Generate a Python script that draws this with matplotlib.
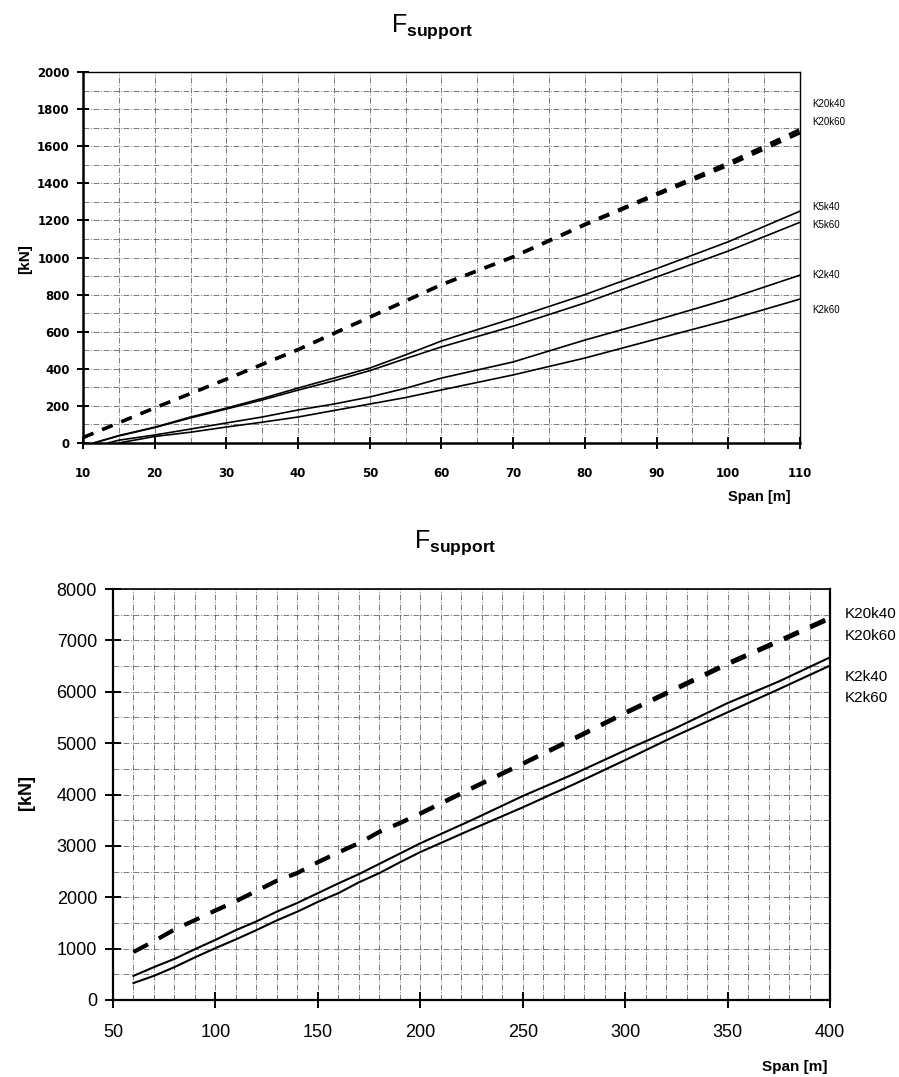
import numpy as np
import matplotlib
matplotlib.use('Agg')
from matplotlib import pyplot as plt
import matplotlib.ticker as ticker
import matplotlib.transforms as mtransforms

plt.rcParams['font.family'] = ['Liberation Sans', 'DejaVu Sans']
plt.rcParams['mathtext.fontset'] = 'custom'
plt.rcParams['mathtext.rm'] = 'Liberation Sans'
plt.rcParams['mathtext.bf'] = 'Liberation Sans:bold'

# ---- top chart data (span 10..110 m) ----
span_k20_top = [10, 20, 30, 40, 50, 60, 70, 80, 90, 100, 110]
k20k40_top = [30, 190, 345, 505, 680, 855, 1005, 1180, 1345, 1510, 1690]
k20k60_top = [28, 188, 343, 502, 677, 852, 1002, 1175, 1337, 1497, 1672]

span_k5_top = [11.5, 15, 20, 25, 30, 35, 40, 45, 50, 55, 60, 70, 80, 90, 100, 110]
k5k40_top = [0, 40, 85, 140, 188, 240, 296, 350, 404, 475, 550, 672, 800, 940, 1085, 1250]
k5k60_top = [0, 38, 83, 135, 183, 232, 285, 335, 390, 455, 518, 630, 755, 895, 1035, 1190]

span_k2k40_top = [13.5, 15, 20, 25, 30, 35, 40, 45, 50, 55, 60, 70, 80, 90, 100, 110]
k2k40_top = [0, 15, 43, 75, 108, 140, 178, 210, 248, 295, 350, 437, 555, 663, 776, 905]
span_k2k60_top = [15, 20, 25, 30, 35, 40, 45, 50, 55, 60, 70, 80, 90, 100, 110]
k2k60_top = [0, 35, 58, 86, 112, 140, 175, 210, 245, 286, 367, 458, 561, 663, 776]

labels_top = ['K20k40', 'K20k60', 'K5k40', 'K5k60', 'K2k40', 'K2k60']
label_pos_top = [1827, 1730, 1272, 1175, 905, 717]

# ---- bottom chart data (span 60..400 m) ----
span_bot = [60, 70, 80, 90, 100, 110, 120, 130, 140, 150, 160, 170, 180, 190, 200,
            225, 250, 275, 300, 325, 350, 375, 400]
k20k40_bot = [940, 1150, 1380, 1560, 1750, 1930, 2130, 2330, 2480, 2690, 2880, 3060, 3280,
              3450, 3640, 4130, 4610, 5100, 5600, 6080, 6560, 7000, 7450]
k20k60_bot = [930, 1140, 1365, 1550, 1735, 1915, 2115, 2315, 2465, 2675, 2865, 3045, 3265,
              3435, 3620, 4110, 4590, 5075, 5575, 6050, 6530, 6970, 7420]
k2k40_bot = [470, 640, 800, 990, 1170, 1360, 1530, 1720, 1890, 2080, 2270, 2450, 2650,
             2850, 3050, 3500, 3970, 4400, 4860, 5300, 5780, 6200, 6670]
k2k60_bot = [330, 470, 640, 830, 1010, 1180, 1360, 1550, 1720, 1910, 2080, 2290, 2470,
             2680, 2880, 3320, 3750, 4200, 4670, 5150, 5600, 6050, 6510]

labels_bot = ['K20k40', 'K20k60', 'K2k40', 'K2k60']
label_pos_bot = [7510, 7082, 6284, 5875]

grid_kw = dict(color='#666666', linewidth=0.6, linestyle=(0, (7, 2, 1, 2)))

fig = plt.figure(figsize=(8.99, 10.77), dpi=100)

# ================= top chart =================
ax1 = fig.add_axes([0.0923, 0.5887, 0.7976, 0.3444])
# same width for both dashed lines so the dash periods line up
ax1.plot(span_k20_top, k20k40_top, color='black', lw=2.3, dashes=(3.5, 3))
ax1.plot(span_k20_top, k20k60_top, color='black', lw=2.3, dashes=(3.5, 3))
ax1.plot(span_k5_top, k5k40_top, color='black', lw=1.2)
ax1.plot(span_k5_top, k5k60_top, color='black', lw=1.2)
ax1.plot(span_k2k40_top, k2k40_top, color='black', lw=1.2)
ax1.plot(span_k2k60_top, k2k60_top, color='black', lw=1.2)
ax1.set_xlim(10, 110)
ax1.set_ylim(0, 2000)
ax1.xaxis.set_major_locator(ticker.MultipleLocator(10))
ax1.xaxis.set_minor_locator(ticker.MultipleLocator(5))
ax1.yaxis.set_major_locator(ticker.MultipleLocator(200))
ax1.yaxis.set_minor_locator(ticker.MultipleLocator(100))
ax1.grid(which='both', **grid_kw)
ax1.set_axisbelow(True)
ax1.tick_params(which='major', direction='inout', length=9, width=1.4)
ax1.tick_params(which='minor', length=0)
ax1.tick_params(axis='y', pad=5)
ax1.tick_params(axis='x', pad=13)
for lab in ax1.get_xticklabels() + ax1.get_yticklabels():
    lab.set_fontfamily('DejaVu Sans')
    lab.set_fontweight('bold')
    lab.set_fontsize(8.5)
for side in ['left', 'bottom']:
    ax1.spines[side].set_linewidth(1.8)
for side in ['top', 'right']:
    ax1.spines[side].set_linewidth(1.0)

trans1 = mtransforms.blended_transform_factory(ax1.transAxes, ax1.transData)
for lab, yv in zip(labels_top, label_pos_top):
    ax1.text(1.017, yv, lab, transform=trans1, fontsize=7, va='center', ha='left')

fig.text(0.4805, 0.975, r'F$_{\mathbf{support}}$', fontsize=18, ha='center', va='center')
fig.text(0.879, 1 - 497 / 1077, 'Span [m]', fontsize=10.5, fontweight='bold', ha='right', va='center')
fig.text(0.028, 1 - 259 / 1077, '[kN]', fontsize=11, fontweight='bold', rotation=90,
         ha='center', va='center')

# ================= bottom chart =================
ax2 = fig.add_axes([0.1257, 0.0715, 0.7976, 0.3816])
ax2.plot(span_bot, k20k40_bot, color='black', lw=2.6, dashes=(4.5, 3.5))
ax2.plot(span_bot, k20k60_bot, color='black', lw=2.6, dashes=(4.5, 3.5))
ax2.plot(span_bot, k2k40_bot, color='black', lw=1.5)
ax2.plot(span_bot, k2k60_bot, color='black', lw=1.5)
ax2.set_xlim(50, 400)
ax2.set_ylim(0, 8000)
ax2.xaxis.set_major_locator(ticker.MultipleLocator(50))
ax2.xaxis.set_minor_locator(ticker.MultipleLocator(10))
ax2.yaxis.set_major_locator(ticker.MultipleLocator(1000))
ax2.yaxis.set_minor_locator(ticker.MultipleLocator(500))
ax2.grid(which='both', **grid_kw)
ax2.set_axisbelow(True)
ax2.tick_params(which='major', direction='inout', length=11, width=1.4, labelsize=13)
ax2.tick_params(which='minor', length=0)
ax2.tick_params(axis='y', pad=6)
ax2.tick_params(axis='x', pad=12)
for side in ['left', 'bottom', 'right']:
    ax2.spines[side].set_linewidth(1.6)
ax2.spines['top'].set_linewidth(1.2)

trans2 = mtransforms.blended_transform_factory(ax2.transAxes, ax2.transData)
for lab, yv in zip(labels_bot, label_pos_bot):
    ax2.text(1.02, yv, lab, transform=trans2, fontsize=11, va='center', ha='left')

fig.text(0.506, 1 - 543 / 1077, r'F$_{\mathbf{support}}$', fontsize=18, ha='center', va='center')
fig.text(0.921, 1 - 1067 / 1077, 'Span [m]', fontsize=11, fontweight='bold', ha='right', va='center')
fig.text(0.029, 1 - 792 / 1077, '[kN]', fontsize=13, fontweight='bold', rotation=90,
         ha='center', va='center')

fig.savefig('out.png', dpi=100, facecolor='white')
